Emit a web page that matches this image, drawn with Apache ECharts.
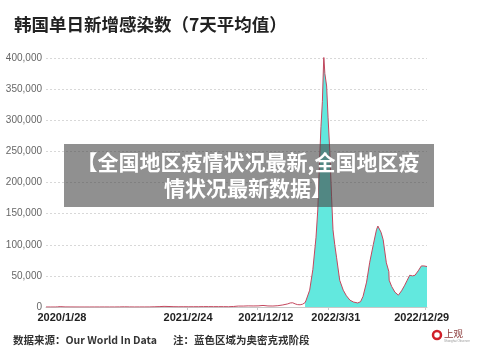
<!DOCTYPE html>
<html>
<head>
<meta charset="utf-8">
<script src="https://cdn.jsdelivr.net/npm/echarts@6/dist/echarts.min.js"></script>
<style>
html,body{margin:0;padding:0;background:#fff;}
#c{width:500px;height:352px;}
</style>
</head>
<body>
<div id="c"></div>
<script>
// ---- data (7-day average of daily new cases, South Korea) ----
const dates = [
"2020-01-22","2020-02-03","2020-02-17","2020-02-24","2020-03-02","2020-03-16","2020-03-30","2020-04-13","2020-04-27",
"2020-05-11","2020-05-25","2020-06-08","2020-06-22","2020-07-06","2020-07-20","2020-08-03","2020-08-17","2020-08-31",
"2020-09-14","2020-09-28","2020-10-12","2020-10-26","2020-11-09","2020-11-23","2020-12-07","2020-12-21",
"2021-01-04","2021-01-18","2021-02-01","2021-02-15","2021-03-01","2021-03-15","2021-03-29","2021-04-12","2021-04-26",
"2021-05-10","2021-05-24","2021-06-07","2021-06-21","2021-07-05","2021-07-19","2021-08-02","2021-08-16","2021-08-30",
"2021-09-13","2021-09-27","2021-10-11","2021-10-25","2021-11-08","2021-11-22","2021-12-06","2021-12-13","2021-12-20",
"2021-12-27","2022-01-03","2022-01-10","2022-01-17","2022-01-24","2022-01-27","2022-02-06","2022-02-15","2022-02-24",
"2022-03-01","2022-03-06","2022-03-10","2022-03-14","2022-03-18","2022-03-21","2022-03-26","2022-03-30","2022-04-04",
"2022-04-09","2022-04-13","2022-04-18","2022-04-23","2022-05-02","2022-05-12","2022-05-21","2022-05-31","2022-06-10",
"2022-06-22","2022-06-30","2022-07-07","2022-07-17","2022-07-26","2022-08-05","2022-08-14","2022-08-18","2022-08-22",
"2022-08-27","2022-09-02","2022-09-11","2022-09-18","2022-09-19","2022-09-26","2022-10-05","2022-10-15","2022-10-24",
"2022-11-02","2022-11-09","2022-11-16","2022-11-24","2022-12-01","2022-12-10","2022-12-19","2022-12-26","2023-01-04"
];
const cases = [
0,2,5,250,580,150,100,30,10,
20,25,45,45,55,40,30,150,300,
140,70,80,90,120,330,600,1000,
800,480,380,450,380,430,470,620,620,
560,560,560,450,800,1500,1500,1800,1700,
1800,2500,1700,1600,2100,3300,5000,6500,6800,
5000,3800,3600,4500,7000,11000,27000,60000,112000,
156000,235000,290000,330000,404000,375000,355000,305000,250000,
177000,124000,100000,80000,43000,27000,18000,11000,8000,
6500,8500,17000,40000,72000,100000,124000,130000,133000,
120000,108000,71000,57000,43000,33000,24000,19000,26000,
35000,43000,51000,50000,51000,58000,66000,66000,65000
];
const omicronStart = "2022-01-24";
const xMin = "2020-01-22";
const xMax = "2023-01-04";
// x tick labels and where the reference places them
const xLabels   = ["2020/1/28","2021/2/24","2021/12/12","2022/3/31","2022/12/29"];
const xLabelAt  = ["2020-03-07","2021-02-27","2021-10-05","2022-04-21","2022-12-20"];
const xTickAt   = ["2021-02-24","2021-09-10","2022-03-31","2022-12-29"];
const yMax = 400000, yStep = 50000;

const titleText = "韩国单日新增感染数（7天平均值）";
const sourceText = "数据来源：Our World In Data";
const noteText = "注：蓝色区域为奥密克戎阶段";
const overlayText = "【全国地区疫情状况最新,全国地区疫\n情状况最新数据】";

// day number since xMin (UTC based, so no DST issues)
function dn(s){const p=s.split('-').map(Number);return Date.UTC(p[0],p[1]-1,p[2])/86400000;}
const d0 = dn(xMin);
function day(s){return dn(s)-d0;}

const allData = dates.map((d,i)=>[day(d),cases[i]]);
const omiDay = day(omicronStart);
const omiData = allData.filter(p=>p[0]>=omiDay);
const labelDays = xLabelAt.map(day);

const chart = echarts.init(document.getElementById('c'), null, {renderer:'canvas'});
const CJK = '"Noto Sans CJK SC","Noto Sans",sans-serif';
chart.setOption({
  animation:false,
  backgroundColor:'#ffffff',
  grid:{left:46,right:73,top:58,bottom:45},
  xAxis:{
    type:'value', min:0, max:day(xMax),
    axisLine:{show:true,lineStyle:{color:'#c8c8c8',width:1}},
    axisTick:{show:true,length:3,lineStyle:{color:'#c8c8c8'},customValues:xTickAt.map(day)},
    splitLine:{show:false},
    axisLabel:{
      customValues:labelDays,
      color:'#222',fontSize:11,fontWeight:'bold',fontFamily:'"Liberation Sans",Arial,sans-serif',
      margin:5,hideOverlap:false,showMinLabel:true,showMaxLabel:true,
      formatter:function(v){
        let best=0,bd=Infinity;
        labelDays.forEach((t,i)=>{const d=Math.abs(t-v);if(d<bd){bd=d;best=i;}});
        return xLabels[best];
      }
    }
  },
  yAxis:{
    type:'value',min:0,max:yMax,interval:yStep,
    axisLine:{show:false},axisTick:{show:false},
    splitLine:{show:true,lineStyle:{color:'#d8d8d8',type:[2,2],width:1}},
    axisLabel:{color:'#666',fontSize:10,fontFamily:'"Liberation Sans",Arial,sans-serif',margin:4,
      formatter:v=>v.toLocaleString('en-US')}
  },
  series:[
    {type:'line',data:omiData,symbol:'none',lineStyle:{width:0},
     areaStyle:{color:'#62e8de',opacity:1},z:1,silent:true},
    {type:'line',data:allData,symbol:'none',lineStyle:{color:'#c4475e',width:1},z:2,silent:true}
  ],
  graphic:[
    {type:'text',left:14,top:16,style:{text:titleText,fontSize:17.5,fontWeight:'bold',fill:'#222',fontFamily:CJK}},
    {type:'text',left:13,top:335,style:{text:sourceText,fontSize:10.5,fontWeight:'bold',fill:'#333',fontFamily:CJK}},
    {type:'text',left:173,top:335,style:{text:noteText,fontSize:10.5,fontWeight:'bold',fill:'#333',fontFamily:CJK}},
    {type:'circle',shape:{cx:437,cy:335,r:4},style:{fill:'none',stroke:'#d0202a',lineWidth:2.5}},
    {type:'text',left:444,top:329,style:{text:'上观',fontSize:9.5,fill:'#8a3a3a',fontFamily:CJK}},
    {type:'text',left:444,top:340,style:{text:'Shanghai Observer',fontSize:3,fill:'#999',fontFamily:'sans-serif'}},
    {type:'rect',shape:{x:64,y:144,width:370,height:63},style:{fill:'rgba(70,70,70,0.6)'},z:100},
    {type:'text',x:248,y:175,z:101,style:{text:overlayText,fontSize:21,fontWeight:'bold',fill:'#fff',
      align:'center',verticalAlign:'middle',lineHeight:26,fontFamily:CJK}}
  ]
});
</script>
</body>
</html>
